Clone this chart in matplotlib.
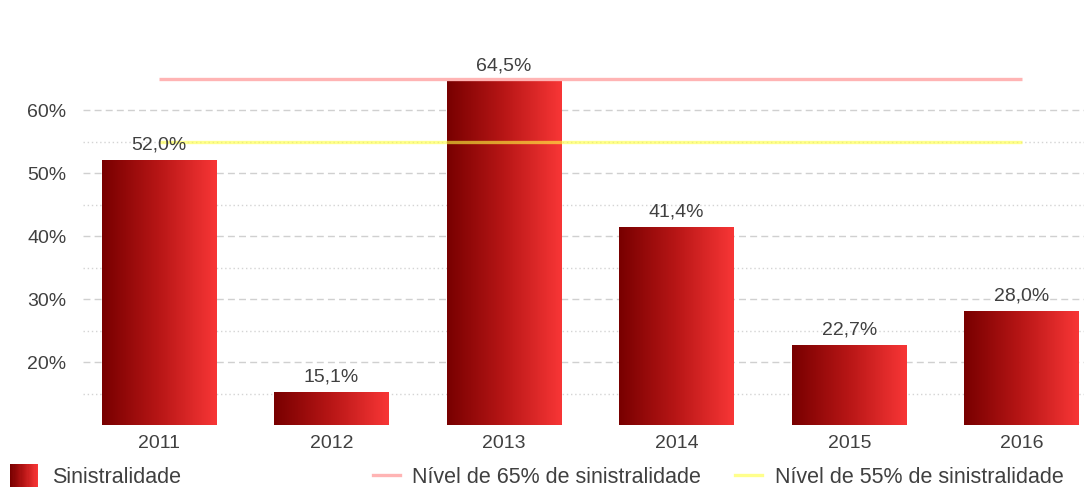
import numpy as np
import matplotlib
matplotlib.use("Agg")
import matplotlib.pyplot as plt
from matplotlib.colors import LinearSegmentedColormap
from matplotlib.legend_handler import HandlerBase
from matplotlib.patches import Rectangle, Patch
from matplotlib.lines import Line2D

# dados
anos = ["2011", "2012", "2013", "2014", "2015", "2016"]
sinistralidade = [52.0, 15.1, 64.5, 41.4, 22.7, 28.0]
nivel_65 = 65
nivel_55 = 55
yticks = [20, 30, 40, 50, 60]

plt.rcParams["font.family"] = ["Liberation Sans", "DejaVu Sans"]
cor_texto = "#404040"

grad = LinearSegmentedColormap.from_list("grad", ["#780000", "#b81616", "#f83636"])


class GradientHandler(HandlerBase):
    def create_artists(self, legend, orig_handle, xdescent, ydescent,
                       width, height, fontsize, trans):
        n = 24
        arts = []
        for i in range(n):
            r = Rectangle((-xdescent + i * width / n, -ydescent), width / n * 1.2, height,
                          facecolor=grad(i / (n - 1)), edgecolor="none", transform=trans)
            arts.append(r)
        return arts


fig = plt.figure(figsize=(10.84, 4.88), dpi=100)
ax = fig.add_axes([83 / 1084, 1 - 425 / 488, 1 - 83 / 1084, 405 / 488])

x = np.arange(len(anos))
bars = ax.bar(x, sinistralidade, width=0.665, color="none", linewidth=0, zorder=3)

ax.set_xlim(-0.44, 5.36)
ax.set_ylim(10, 74.3)
y0 = ax.get_ylim()[0]

# gradiente horizontal em cada barra
g = np.linspace(0, 1, 256).reshape(1, -1)
for b in bars:
    ax.imshow(g, cmap=grad, aspect="auto", zorder=2, interpolation="bilinear",
              extent=[b.get_x(), b.get_x() + b.get_width(), y0, b.get_height()])

for xi, v in zip(x, sinistralidade):
    ax.annotate(f"{v:.1f}%".replace(".", ","), (xi, v), xytext=(0, 5), textcoords="offset points",
                ha="center", va="bottom", fontsize=14, color=cor_texto, zorder=5)

# linhas de nivel
ax.plot([x[0], x[-1]], [nivel_65, nivel_65], color="#ffb4b4", lw=2.4, zorder=4, solid_capstyle="butt")
ax.plot([x[0], x[-1]], [nivel_55, nivel_55], color="#ffff40", alpha=0.6, lw=2.4, zorder=4,
        solid_capstyle="butt")

ax.set_xlim(-0.44, 5.36)
ax.set_ylim(10, 74.3)
ax.set_xticks(x)
ax.set_xticklabels(anos)
ax.set_yticks(yticks)
ax.set_yticklabels([f"{t}%" for t in yticks])
ax.set_yticks([15, 25, 35, 45, 55], minor=True)
ax.tick_params(axis="both", which="both", length=0, labelsize=14, colors=cor_texto)
ax.tick_params(axis="y", pad=12)
ax.tick_params(axis="x", pad=7)
ax.grid(axis="y", which="major", color="#d0d0d0", linestyle=(0, (5, 3)), lw=1)
ax.grid(axis="y", which="minor", color="#d4d4d4", linestyle=(0, (1, 2)), lw=1)
ax.set_axisbelow(True)
for s in ax.spines.values():
    s.set_visible(False)

# legendas
kw = dict(loc="lower left", frameon=False, borderpad=0, borderaxespad=0, fontsize=15.5,
          labelcolor=cor_texto)
fig.legend(handles=[Patch(label="Sinistralidade")], handler_map={Patch: GradientHandler()},
           bbox_to_anchor=(10 / 1084, 0.0), handlelength=1.3, handleheight=1.25,
           handletextpad=0.65, **kw)
fig.legend(handles=[Line2D([], [], color="#ffb4b4", lw=2.4, label="Nível de 65% de sinistralidade")],
           bbox_to_anchor=(373 / 1084, 0.0), handlelength=1.25, handletextpad=0.55, **kw)
fig.legend(handles=[Line2D([], [], color="#ffff40", alpha=0.6, lw=2.4, label="Nível de 55% de sinistralidade")],
           bbox_to_anchor=(735 / 1084, 0.0), handlelength=1.25, handletextpad=0.6, **kw)

plt.savefig("out.png", dpi=100)
